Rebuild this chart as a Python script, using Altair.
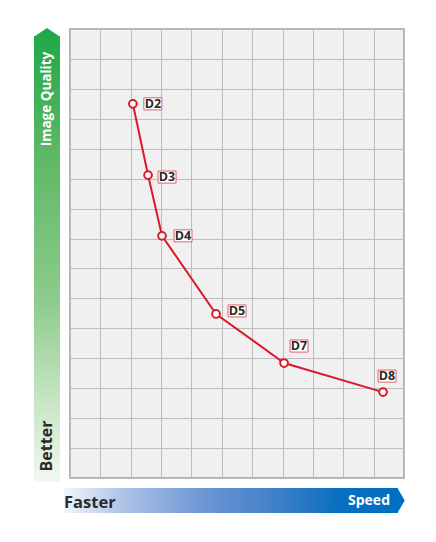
import altair as alt
import pandas as pd

# ---- data ----
labels = ["D2", "D3", "D4", "D5", "D7", "D8"]
speed = [2.07, 2.57, 3.03, 4.81, 7.05, 10.31]
quality = [12.5, 10.12, 8.09, 5.48, 3.84, 2.87]

df = pd.DataFrame({"label": labels, "speed": speed, "quality": quality})

# label placement (style): pixel offsets of the label box from its point
label_offsets = {"D2": (20, 0), "D3": (19, 2), "D4": (21, 0),
                 "D5": (21, -3), "D7": (15, -17), "D8": (4, -16)}

RED = "#d81b2c"
FONT = "Open Sans"
W, H = 334, 449

xs = alt.Scale(domain=[0, 11], nice=False)
ys = alt.Scale(domain=[0, 15], nice=False)
xaxis = alt.Axis(values=list(range(12)), grid=True, labels=False, ticks=False,
                 domain=False, title=None, gridColor="#bdbdbd", gridWidth=1, gridOpacity=1)
yaxis = alt.Axis(values=list(range(16)), grid=True, labels=False, ticks=False,
                 domain=False, title=None, gridColor="#bdbdbd", gridWidth=1, gridOpacity=1)

base = alt.Chart(df).encode(
    x=alt.X("speed:Q", scale=xs, axis=xaxis),
    y=alt.Y("quality:Q", scale=ys, axis=yaxis),
)

line = base.mark_line(color=RED, strokeWidth=2)
pts = base.mark_point(shape="circle", size=60, filled=True, fill="white",
                      stroke=RED, strokeWidth=2, opacity=1)

layers = [line, pts]
for lab in labels:
    dx, dy = label_offsets[lab]
    sub = base.transform_filter(alt.datum.label == lab)
    box = sub.mark_point(shape="M-1,-0.67L1,-0.67L1,0.67L-1,0.67Z", size=324,
                         filled=True, fill="white", stroke="#e4606c", strokeWidth=1,
                         opacity=1, xOffset=dx, yOffset=dy)
    txt = sub.mark_text(font=FONT, fontWeight="bold", fontSize=12.5, color="#2b2b2b",
                        dx=dx, dy=dy, align="center", baseline="middle").encode(text="label:N")
    layers += [box, txt]

# ---- decorative axis arrows ----
one = pd.DataFrame({"a": [0]})
green_grad = alt.LinearGradient(gradient="linear", x1=0, x2=0, y1=0, y2=1, stops=[
    alt.GradientStop(offset=0, color="#22a84a"),
    alt.GradientStop(offset=0.26, color="#5cb865"),
    alt.GradientStop(offset=0.59, color="#8dcb8c"),
    alt.GradientStop(offset=0.82, color="#c7e5c3"),
    alt.GradientStop(offset=1, color="#f2f9f0"),
])
blue_grad = alt.LinearGradient(gradient="linear", x1=0, x2=1, y1=0, y2=0, stops=[
    alt.GradientStop(offset=0, color="#f2f5fb"),
    alt.GradientStop(offset=0.17, color="#b0c4e8"),
    alt.GradientStop(offset=0.41, color="#6e97d4"),
    alt.GradientStop(offset=0.65, color="#3c7ec8"),
    alt.GradientStop(offset=0.82, color="#0a6fc0"),
    alt.GradientStop(offset=1, color="#0070c0"),
])

green_body = alt.Chart(one).mark_rect(color=green_grad).encode(
    x=alt.value(-36), x2=alt.value(-10), y=alt.value(7), y2=alt.value(453))
green_tip = alt.Chart(one).mark_point(shape="M-1,0.05L0,-0.62L1,0.05Z", size=676,
                                      filled=True, color="#22a84a", opacity=1).encode(
    x=alt.value(-23), y=alt.value(7))
quality_txt = alt.Chart(one).mark_text(text="Image Quality", angle=270, font=FONT,
                                       fontWeight="bold", fontSize=13.5, color="white",
                                       align="center", baseline="middle").encode(
    x=alt.value(-23), y=alt.value(70))
better_txt = alt.Chart(one).mark_text(text="Better", angle=270, font=FONT,
                                      fontWeight="bold", fontSize=16, color="#2b2b2b",
                                      align="center", baseline="middle").encode(
    x=alt.value(-23), y=alt.value(417))

blue_body = alt.Chart(one).mark_rect(color=blue_grad).encode(
    x=alt.value(-6), x2=alt.value(328), y=alt.value(459), y2=alt.value(484))
blue_tip = alt.Chart(one).mark_point(shape="M-0.05,-1L0.54,0L-0.05,1Z", size=625,
                                     filled=True, color="#0070c0", opacity=1).encode(
    x=alt.value(328), y=alt.value(471.5))
faster_txt = alt.Chart(one).mark_text(text="Faster", font=FONT, fontWeight="bold",
                                      fontSize=16.5, color="#2b2b2b", align="left",
                                      baseline="middle").encode(
    x=alt.value(-6), y=alt.value(474))
speed_txt = alt.Chart(one).mark_text(text="Speed", font=FONT, fontWeight="bold",
                                     fontSize=14, color="white", align="right",
                                     baseline="middle").encode(
    x=alt.value(320), y=alt.value(472))

chart = alt.layer(
    *layers, green_body, green_tip, quality_txt, better_txt,
    blue_body, blue_tip, faster_txt, speed_txt,
).properties(
    width=W, height=H,
    autosize=alt.AutoSizeParams(type="none"),
    padding={"left": 62, "top": 21, "right": 24, "bottom": 50},
    background="white",
).configure_view(fill="#f0f0f0", stroke="#9a9a9a", strokeWidth=1.5)

chart.save("out.html", embed_options={"renderer": "svg", "actions": False})
